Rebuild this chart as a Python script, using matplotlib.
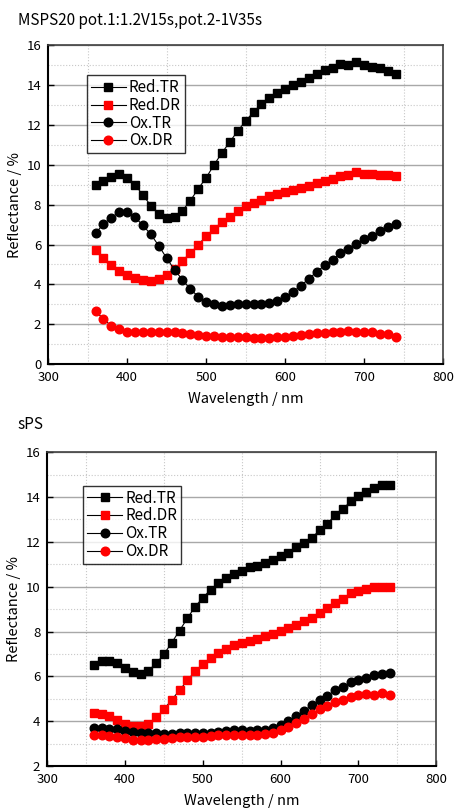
import numpy as np
import matplotlib.pyplot as plt
from matplotlib.ticker import MultipleLocator

plt.rcParams['font.family'] = ['Noto Sans CJK JP', 'DejaVu Sans']

wl = np.arange(360, 750, 10)

# MSPS20 pot.1:1.2V15s, pot.2-1V35s
msps_red_tr = [8.98, 9.18, 9.40, 9.52, 9.35, 8.99, 8.49, 7.95, 7.52, 7.33,
               7.40, 7.70, 8.20, 8.80, 9.35, 10.00, 10.60, 11.15, 11.70, 12.20,
               12.65, 13.05, 13.35, 13.60, 13.80, 14.00, 14.17, 14.35, 14.57, 14.77,
               14.85, 15.07, 15.00, 15.17, 15.00, 14.90, 14.85, 14.70, 14.57]
msps_red_dr = [5.72, 5.34, 4.97, 4.68, 4.46, 4.30, 4.21, 4.16, 4.26, 4.46,
               4.75, 5.18, 5.57, 5.97, 6.43, 6.78, 7.13, 7.40, 7.68, 7.95,
               8.09, 8.24, 8.46, 8.56, 8.66, 8.76, 8.84, 8.95, 9.08, 9.18,
               9.28, 9.42, 9.48, 9.62, 9.55, 9.55, 9.50, 9.50, 9.45]
msps_ox_tr = [6.56, 7.03, 7.35, 7.63, 7.62, 7.37, 6.96, 6.51, 5.94, 5.32,
              4.73, 4.23, 3.76, 3.39, 3.12, 2.99, 2.92, 2.94, 2.99, 3.02,
              3.02, 3.02, 3.05, 3.19, 3.37, 3.62, 3.94, 4.28, 4.63, 4.95,
              5.22, 5.55, 5.76, 6.01, 6.26, 6.43, 6.66, 6.86, 7.03]
msps_ox_dr = [2.65, 2.27, 1.91, 1.74, 1.63, 1.59, 1.63, 1.61, 1.63, 1.61,
              1.59, 1.54, 1.51, 1.46, 1.43, 1.41, 1.38, 1.38, 1.38, 1.36,
              1.33, 1.29, 1.33, 1.34, 1.38, 1.43, 1.46, 1.51, 1.56, 1.58,
              1.61, 1.63, 1.64, 1.61, 1.61, 1.61, 1.53, 1.53, 1.34]

# sPS
sps_red_tr = [6.52, 6.70, 6.70, 6.58, 6.39, 6.21, 6.12, 6.26, 6.58, 6.99,
              7.51, 8.04, 8.59, 9.11, 9.51, 9.87, 10.18, 10.40, 10.57, 10.72,
              10.87, 10.94, 11.07, 11.21, 11.39, 11.52, 11.76, 11.93, 12.18, 12.52,
              12.82, 13.18, 13.46, 13.82, 14.04, 14.24, 14.40, 14.52, 14.52]
sps_red_dr = [4.38, 4.34, 4.22, 4.04, 3.88, 3.77, 3.77, 3.88, 4.17, 4.53,
              4.96, 5.38, 5.82, 6.23, 6.54, 6.81, 7.03, 7.24, 7.39, 7.48,
              7.57, 7.68, 7.79, 7.91, 8.01, 8.15, 8.28, 8.46, 8.61, 8.82,
              9.04, 9.28, 9.46, 9.70, 9.79, 9.88, 9.97, 10.01, 10.01]
sps_ox_tr = [3.71, 3.70, 3.67, 3.64, 3.58, 3.50, 3.47, 3.47, 3.46, 3.44,
             3.44, 3.47, 3.47, 3.47, 3.47, 3.49, 3.52, 3.55, 3.59, 3.59,
             3.58, 3.61, 3.61, 3.70, 3.82, 4.01, 4.22, 4.47, 4.71, 4.96,
             5.14, 5.38, 5.54, 5.74, 5.82, 5.93, 6.06, 6.11, 6.14]
sps_ox_dr = [3.37, 3.38, 3.35, 3.28, 3.24, 3.16, 3.16, 3.16, 3.19, 3.21,
             3.25, 3.28, 3.29, 3.29, 3.31, 3.34, 3.37, 3.40, 3.41, 3.40,
             3.40, 3.40, 3.43, 3.49, 3.59, 3.74, 3.92, 4.11, 4.31, 4.53,
             4.69, 4.84, 4.96, 5.07, 5.15, 5.20, 5.18, 5.27, 5.18]

labels = ['Red.TR', 'Red.DR', 'Ox.TR', 'Ox.DR']
styles = [('s', 'black', 5.2), ('s', 'red', 5.2), ('o', 'black', 6.2), ('o', 'red', 6.2)]


def draw(ax, series, ymin, leg_anchor):
    for y, lab, (m, c, ms) in zip(series, labels, styles):
        ax.plot(wl, y, color='black', lw=0.8, marker=m, ms=ms,
                mfc=c, mec=c, label=lab)
    ax.set_xlim(300, 800)
    ax.set_ylim(ymin, 16)
    ax.xaxis.set_major_locator(MultipleLocator(100))
    ax.xaxis.set_minor_locator(MultipleLocator(50))
    ax.yaxis.set_major_locator(MultipleLocator(2))
    ax.yaxis.set_minor_locator(MultipleLocator(1))
    ax.grid(which='major', axis='y', color='#a8a8a8', lw=1.0, ls='-')
    ax.grid(which='minor', axis='y', color='#c8c8c8', lw=0.8, ls=':')
    ax.grid(which='minor', axis='x', color='#c8c8c8', lw=0.8, ls=':')
    ax.set_axisbelow(True)
    ax.tick_params(which='major', direction='in', length=4, width=1,
                   labelsize=9.5, pad=5)
    ax.tick_params(which='minor', length=0)
    for s in ['left', 'bottom']:
        ax.spines[s].set_linewidth(1.5)
        ax.spines[s].set_color('black')
    for s in ['top', 'right']:
        ax.spines[s].set_linewidth(1.2)
        ax.spines[s].set_color('#404040')
    ax.set_xlabel('Wavelength / nm', fontsize=10.5, labelpad=6)
    ax.set_ylabel('Reflectance / %', fontsize=10.5, labelpad=3)
    leg = ax.legend(loc='upper left', bbox_to_anchor=leg_anchor, fontsize=11,
                    frameon=True, fancybox=False, edgecolor='black',
                    borderpad=0.25, labelspacing=0.05, handlelength=2.3,
                    handletextpad=0.2, borderaxespad=0)
    leg.get_frame().set_linewidth(1.0)


fig = plt.figure(figsize=(4.54, 8.09), dpi=100)
ax1 = fig.add_axes([0.106, 0.550, 0.870, 0.394])
ax2 = fig.add_axes([0.104, 0.053, 0.857, 0.388])

draw(ax1, [msps_red_tr, msps_red_dr, msps_ox_tr, msps_ox_dr], 0, (0.098, 0.906))
draw(ax2, [sps_red_tr, sps_red_dr, sps_ox_tr, sps_ox_dr], 2, (0.093, 0.893))

fig.text(0.040, 0.975, 'MSPS20 pot.1:1.2V15s,pot.2-1V35s', fontsize=11, va='center')
fig.text(0.038, 0.475, 'sPS', fontsize=11, va='center')

fig.savefig('out.png', dpi=100)
